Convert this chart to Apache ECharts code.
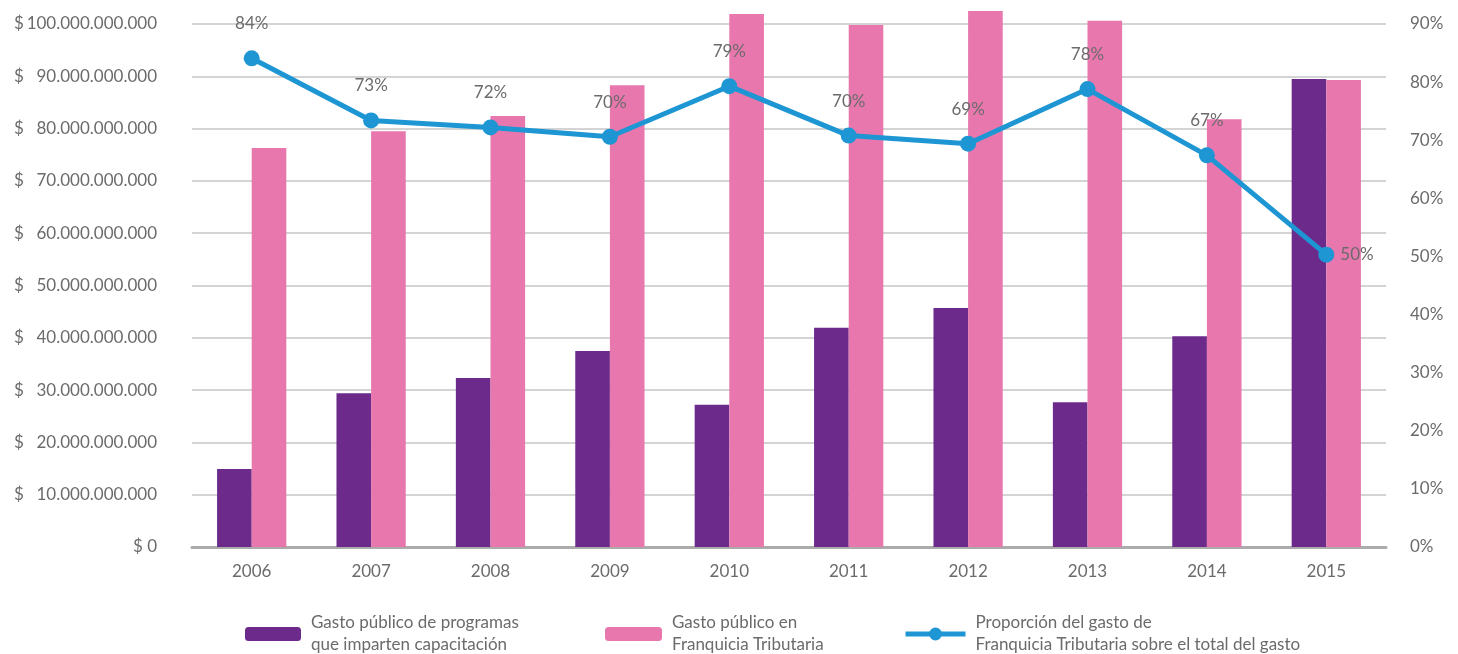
<!DOCTYPE html>
<html>
<head>
<meta charset="utf-8">
<script src="https://cdn.jsdelivr.net/npm/echarts@6/dist/echarts.min.js"></script>
<style>
html,body{margin:0;padding:0;background:#fff;}
#main{width:1458px;height:654px;}
</style>
</head>
<body>
<div id="main"></div>
<script>
var years = ['2006', '2007', '2008', '2009', '2010', '2011', '2012', '2013', '2014', '2015'];
// gasto publico de programas (pesos)
var gastoProgramas = [14.9e9, 29.4e9, 32.3e9, 37.5e9, 27.2e9, 41.9e9, 45.7e9, 27.7e9, 40.3e9, 89.5e9];
// gasto publico en franquicia tributaria (pesos)
var gastoFranquicia = [76.3e9, 79.5e9, 82.4e9, 88.3e9, 101.9e9, 99.8e9, 102.5e9, 100.6e9, 81.8e9, 89.3e9];
// proporcion (%)
var proporcion = [84.1, 73.4, 72.2, 70.6, 79.3, 70.8, 69.4, 78.8, 67.4, 50.3];
var proporcionLabels = ['84%', '73%', '72%', '70%', '79%', '70%', '69%', '78%', '67%', '50%'];

var nameA = 'Gasto público de programas\nque imparten capacitación';
var nameB = 'Gasto público en\nFranquicia Tributaria';
var nameC = 'Proporción del gasto de\nFranquicia Tributaria sobre el total del gasto';

var fontFam = 'Lato, "Open Sans", sans-serif';
var grey = '#6b6b6b';

function fmtMoney(v) {
	if (v === 0) return '$ 0';
	var s = String(Math.round(v)).replace(/\B(?=(\d{3})+(?!\d))/g, '.');
	return '{d|$}{n|' + s + '}';
}

var myChart = echarts.init(document.getElementById('main'));

var legendText = {color: grey, fontSize: 17, lineHeight: 22, fontFamily: fontFam, padding: [0, 0, 0, 5]};

myChart.setOption({
	backgroundColor: '#fff',
	animation: false,
	textStyle: {fontFamily: fontFam},
	legend: [
		{data: [nameA], left: 240, top: 607, itemWidth: 56, itemHeight: 14, itemGap: 10, textStyle: legendText, selectedMode: false},
		{data: [nameB], left: 600, top: 607, itemWidth: 57, itemHeight: 14, itemGap: 10, textStyle: legendText, selectedMode: false},
		{data: [nameC], left: 898, top: 607, itemWidth: 60, itemHeight: 16, itemGap: 10, textStyle: legendText, selectedMode: false,
			lineStyle: {width: 5}}
	],
	grid: {left: 192, right: 72, top: 24, bottom: 107},
	xAxis: {
		type: 'category',
		data: years,
		axisLine: {lineStyle: {color: '#ababab', width: 3}},
		axisTick: {show: false},
		axisLabel: {color: grey, fontSize: 17, margin: 16}
	},
	yAxis: [
		{
			type: 'value',
			min: 0,
			max: 100e9,
			interval: 10e9,
			axisLine: {show: false},
			axisTick: {show: false},
			splitLine: {lineStyle: {color: '#d4d4d4', width: 2}},
			axisLabel: {
				margin: 35,
				color: grey,
				fontSize: 17,
				formatter: fmtMoney,
				rich: {
					d: {color: grey, fontSize: 17, width: 10, align: 'left', fontFamily: fontFam},
					n: {color: grey, fontSize: 17, width: 133, align: 'right', fontFamily: fontFam}
				}
			}
		},
		{
			type: 'value',
			min: 0,
			max: 90,
			interval: 10,
			position: 'right',
			axisLine: {show: false},
			axisTick: {show: false},
			splitLine: {show: false},
			axisLabel: {margin: 24, color: grey, fontSize: 17, formatter: '{value}%'}
		}
	],
	series: [
		{
			name: nameA,
			type: 'bar',
			data: gastoProgramas,
			barGap: '0%',
			barCategoryGap: '42%',
			clip: false,
			itemStyle: {color: '#6c2a8b'}
		},
		{
			name: nameB,
			type: 'bar',
			data: gastoFranquicia,
			clip: false,
			itemStyle: {color: '#e877ad'}
		},
		{
			name: nameC,
			type: 'line',
			yAxisIndex: 1,
			data: proporcion.map(function (v, i) {
				var d = {value: v};
				if (i === proporcion.length - 1) {
					d.label = {position: 'right', distance: 6};
				}
				return d;
			}),
			symbol: 'circle',
			symbolSize: 16,
			lineStyle: {color: '#1e96d3', width: 5},
			itemStyle: {color: '#1e96d3'},
			label: {
				show: true,
				position: 'top',
				distance: 18,
				color: grey,
				fontSize: 17,
				formatter: function (p) { return proporcionLabels[p.dataIndex]; }
			},
			z: 5
		}
	]
});
</script>
</body>
</html>
